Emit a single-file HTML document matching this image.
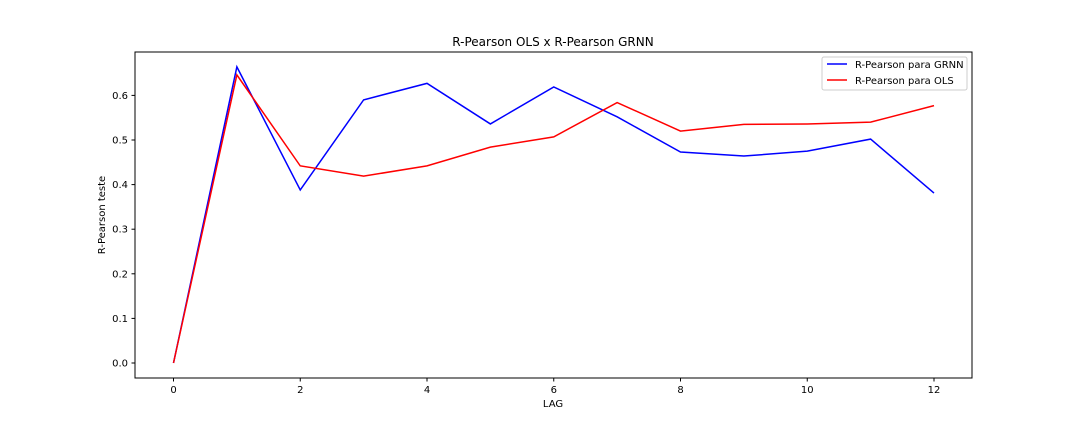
<!DOCTYPE html>
<html><head><meta charset="utf-8"><style>
body{margin:0;background:#fff;}
svg{display:block;font-family:"DejaVu Sans","Liberation Sans",sans-serif;}
</style></head><body>
<svg id="chart" width="1080" height="432" viewBox="0 0 1080 432" xmlns="http://www.w3.org/2000/svg">
<rect width="1080" height="432" fill="#fff"/>
<text x="553" y="46" font-size="12" text-anchor="middle" fill="#000">R-Pearson OLS x R-Pearson GRNN</text>
<g id="plot"></g>
<rect x="135" y="52" width="837" height="326" fill="none" stroke="#000" stroke-width="1"/>
<text x="553" y="407" font-size="10" text-anchor="middle">LAG</text>
<text transform="translate(105,215) rotate(-90)" font-size="10" text-anchor="middle">R-Pearson teste</text>
<g>
<rect x="822" y="57" width="145" height="33" fill="#fff" stroke="#ccc" rx="2"/>
<line x1="827" y1="64" x2="847" y2="64" stroke="#0000ff" stroke-width="1.5"/>
<text x="855" y="68" font-size="10">R-Pearson para GRNN</text>
<line x1="827" y1="80" x2="847" y2="80" stroke="#ff0000" stroke-width="1.5"/>
<text x="855" y="84" font-size="10">R-Pearson para OLS</text>
</g>
</svg>
<script>
const lags=[0,1,2,3,4,5,6,7,8,9,10,11,12];
const grnn=[0,0.664,0.388,0.59,0.627,0.536,0.619,0.552,0.473,0.464,0.475,0.502,0.381];
const ols=[0,0.646,0.442,0.419,0.442,0.484,0.507,0.584,0.52,0.535,0.536,0.54,0.577];
const xTicks=[0,2,4,6,8,10,12];
const yTicks=[0,0.1,0.2,0.3,0.4,0.5,0.6];
const ns="http://www.w3.org/2000/svg";
const X=v=>173.5+v*(934-173.5)/12;
const Y=v=>363-v*446;
const g=document.getElementById('plot');
function mk(t,a){const e=document.createElementNS(ns,t);for(const k in a)e.setAttribute(k,a[k]);g.appendChild(e);return e;}
xTicks.forEach(t=>{
 const l=mk('line',{x1:X(t),x2:X(t),y1:378,y2:381.5,stroke:'#000'});
 
 
 const tx=mk('text',{x:X(t),y:393,'font-size':10,'text-anchor':'middle'});tx.textContent=t;
 
 
});
yTicks.forEach(t=>{
 const l=mk('line',{x1:131.5,x2:135,y1:Y(t),y2:Y(t),stroke:'#000'});
 
 
 const tx=mk('text',{x:128,y:Y(t)+3.5,'font-size':10,'text-anchor':'end'});tx.textContent=t.toFixed(1);
 
 
});
function series(d,c,n){
 const p=mk('polyline',{points:d.map((v,i)=>X(lags[i])+','+Y(v)).join(' '),fill:'none',stroke:c,'stroke-width':1.5});
 
 
}
series(grnn,'#0000ff','grnn-line');
series(ols,'#ff0000','ols-line');
</script>
</body></html>
